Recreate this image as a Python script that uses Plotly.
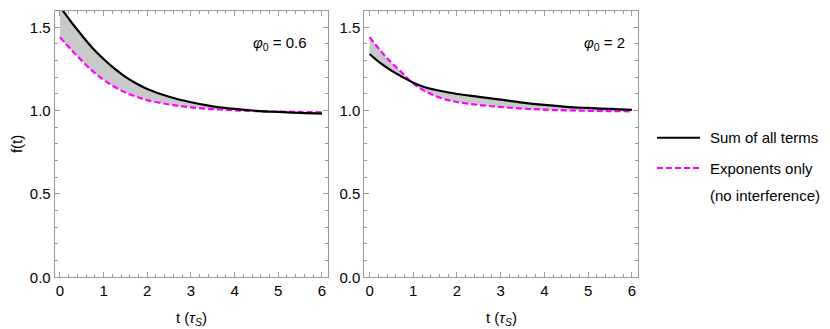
import plotly.graph_objects as go

# sample times (in units of tau_S)
t = [0, 0.25, 0.5, 0.75, 1.0, 1.25, 1.5, 1.75, 2.0, 2.5, 3.0, 3.5, 4.0, 4.5, 5.0, 5.5, 6.0]

# phi0 = 0.6
sum_06 = [1.625, 1.535, 1.452, 1.375, 1.31, 1.252, 1.203, 1.163, 1.13, 1.083, 1.05,
          1.026, 1.01, 0.999, 0.992, 0.986, 0.982]
exp_06 = [1.441, 1.368, 1.30, 1.237, 1.185, 1.143, 1.109, 1.083, 1.063, 1.037, 1.02,
          1.009, 1.002, 0.997, 0.994, 0.992, 0.99]

# phi0 = 2
sum_2 = [1.34, 1.285, 1.24, 1.202, 1.168, 1.142, 1.125, 1.112, 1.10, 1.083, 1.066,
         1.048, 1.034, 1.023, 1.016, 1.01, 1.005]
exp_2 = [1.441, 1.36, 1.288, 1.226, 1.162, 1.12, 1.088, 1.066, 1.052, 1.034, 1.022,
         1.012, 1.006, 1.002, 0.999, 0.997, 0.996]

panel_labels = ["<i>φ</i><sub>0</sub> = 0.6", "<i>φ</i><sub>0</sub> = 2"]
label_pos = [(5.04, 1.40), (5.37, 1.40)]
legend_lines = ["Sum of all terms", "Exponents only", "(no interference)"]

FONT = "Liberation Sans, Arial, sans-serif"
FRAME = "#9a9a9a"
PINK = "#ff00ff"
W, H = 830, 329
X_OFF = 8   # page puts the plot 8px to the right, so pull everything left


def px(x):
    return (x - X_OFF) / W


def py(y):
    return 1 - y / H


fig = go.Figure()

panels = [(sum_06, exp_06, "x", "y"), (sum_2, exp_2, "x2", "y2")]
for s, e, xa, ya in panels:
    # shaded band between the two curves
    fig.add_trace(go.Scatter(x=t, y=e, mode="lines", line=dict(width=0, shape="spline"),
                             hoverinfo="skip", xaxis=xa, yaxis=ya))
    fig.add_trace(go.Scatter(x=t, y=s, mode="lines", line=dict(width=0, shape="spline"),
                             fill="tonexty", fillcolor="#c9c9c9",
                             hoverinfo="skip", xaxis=xa, yaxis=ya))
    fig.add_trace(go.Scatter(x=t, y=e, mode="lines", name="Exponents only",
                             line=dict(color=PINK, width=2.2, dash="6px,3px", shape="spline"),
                             xaxis=xa, yaxis=ya))
    fig.add_trace(go.Scatter(x=t, y=s, mode="lines", name="Sum of all terms",
                             line=dict(color="black", width=2.2, shape="spline"),
                             xaxis=xa, yaxis=ya))

axis_common = dict(
    showline=True, linecolor=FRAME, linewidth=1, mirror="ticks",
    ticks="inside", tickcolor=FRAME, ticklen=5, tickwidth=1,
    showgrid=False, zeroline=False,
    tickfont=dict(family=FONT, size=15, color="black"),
)

y_dom = [py(276), py(2.7)]
x_doms = [[px(54.7), px(328)], [px(364.3), px(638)]]

for k, xd in enumerate(x_doms):
    sx = "" if k == 0 else "2"
    fig.update_layout(**{
        "xaxis" + sx: dict(axis_common, domain=xd, range=[-0.12, 6.14],
                           tickvals=[0, 1, 2, 3, 4, 5, 6],
                           minor=dict(dtick=0.2, tick0=0, ticks="inside", ticklen=3,
                                      tickcolor=FRAME, showgrid=False),
                           anchor="y" + sx),
        "yaxis" + sx: dict(axis_common, domain=y_dom, range=[0, 1.6],
                           tickvals=[0, 0.5, 1.0, 1.5], ticktext=["0.0", "0.5", "1.0", "1.5"],
                           minor=dict(dtick=0.1, tick0=0, ticks="inside", ticklen=3,
                                      tickcolor=FRAME, showgrid=False),
                           anchor="x" + sx),
    })

txt = dict(family=FONT, size=15, color="black")
annotations = []
# panel labels
for k, lab in enumerate(panel_labels):
    sx = "" if k == 0 else "2"
    annotations.append(dict(text=lab, x=label_pos[k][0], y=label_pos[k][1],
                            xref="x" + sx, yref="y" + sx, showarrow=False,
                            xanchor="center", yanchor="middle", font=txt))
# axis titles
for xd in x_doms:
    annotations.append(dict(text="t (<i>τ</i><sub><i>S</i></sub>)", x=(xd[0] + xd[1]) / 2,
                            y=py(318), xref="paper", yref="paper", showarrow=False,
                            xanchor="center", yanchor="middle", font=txt))
annotations.append(dict(text="f(t)", x=px(16.5), y=py(140), xref="paper", yref="paper",
                        showarrow=False, textangle=-90, xanchor="center", yanchor="middle",
                        borderpad=0, font=txt))

# legend drawn by hand (longer line samples than plotly's own legend)
rows_y = [133, 164, 192]
for label, yy in zip(legend_lines, rows_y):
    annotations.append(dict(text=label, x=px(709), y=py(yy), xref="paper", yref="paper",
                            showarrow=False, xanchor="left", yanchor="middle",
                            borderpad=0, font=txt))
shapes = [
    dict(type="line", xref="paper", yref="paper", x0=px(657), x1=px(700),
         y0=py(rows_y[0]), y1=py(rows_y[0]), line=dict(color="black", width=2.2)),
    dict(type="line", xref="paper", yref="paper", x0=px(657), x1=px(700),
         y0=py(rows_y[1]), y1=py(rows_y[1]),
         line=dict(color=PINK, width=2.2, dash="6px,3px")),
]

fig.update_layout(
    width=W, height=H,
    margin=dict(l=0, r=0, t=0, b=0),
    paper_bgcolor="white", plot_bgcolor="white",
    annotations=annotations, shapes=shapes,
    showlegend=False,
)

fig.write_html("out.html")
